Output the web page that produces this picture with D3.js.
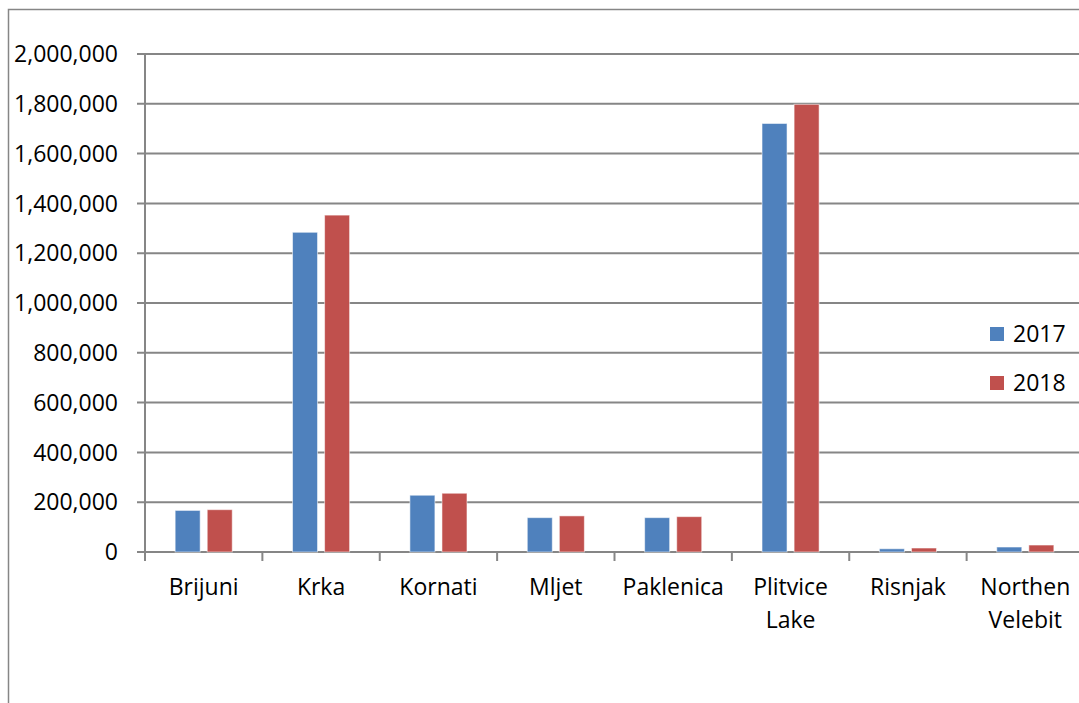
<!DOCTYPE html>
<html>
<head>
<meta charset="utf-8">
<script src="https://cdn.jsdelivr.net/npm/d3@7"></script>
<style>
  body { margin: 0; background: #fff; }
  text { font-family: "Open Sans", "Noto Sans", sans-serif; fill: #000; }
</style>
</head>
<body>
<div id="chart"></div>
<script>
const parks = ['Brijuni', 'Krka', 'Kornati', 'Mljet', 'Paklenica', 'Plitvice Lake', 'Risnjak', 'Northen Velebit'];
const years = ['2017', '2018'];
const visits2017 = [167000, 1284000, 228000, 138000, 138000, 1721000, 13000, 20000];
const visits2018 = [170000, 1353000, 236000, 145000, 142000, 1798000, 16000, 28000];
const yTicks = [0, 200000, 400000, 600000, 800000, 1000000, 1200000, 1400000, 1600000, 1800000, 2000000];
const colors = ['#4F81BD', '#C0504D'];

const w = 1079, h = 703;
const plotLeft = 145, plotRight = 1084, plotTop = 54, base = 552;
const grey = '#868686';

const svg = d3.select('#chart')
  .append('svg')
  .attr('width', w)
  .attr('height', h);

// outer chart frame, clipped by the window on right and bottom
svg.append('rect')
  .attr('x', 8.5).attr('y', 9.5)
  .attr('width', w + 20).attr('height', h + 20)
  .style('fill', 'none')
  .style('stroke', grey)
  .style('stroke-width', 1.5);

const x = d3.scaleBand().domain(parks).range([plotLeft, plotRight]).padding(0);
const x1 = d3.scaleBand().domain(years).range([0, x.bandwidth()])
  .paddingInner(0.22).paddingOuter(0.94);
const y = d3.scaleLinear().domain([0, 2000000]).range([base, plotTop]);

// gridlines
svg.append('g')
  .selectAll('line')
  .data(yTicks)
  .enter()
  .append('line')
  .attr('x1', plotLeft - 8)
  .attr('x2', w)
  .attr('y1', d => y(d))
  .attr('y2', d => y(d))
  .style('stroke', grey)
  .style('stroke-width', 2);

// y labels
svg.append('g')
  .selectAll('text')
  .data(yTicks)
  .enter()
  .append('text')
  .attr('x', 118)
  .attr('y', d => y(d))
  .attr('dy', '0.36em')
  .attr('text-anchor', 'end')
  .style('font-size', '23px')
  .text(d => d3.format(',')(d));

// y axis line
svg.append('line')
  .attr('x1', plotLeft).attr('x2', plotLeft)
  .attr('y1', y(2000000)).attr('y2', base)
  .style('stroke', grey)
  .style('stroke-width', 2);

// category ticks
svg.append('g')
  .selectAll('line')
  .data(parks.concat(['end']))
  .enter()
  .append('line')
  .attr('x1', (d, i) => plotLeft + i * x.bandwidth())
  .attr('x2', (d, i) => plotLeft + i * x.bandwidth())
  .attr('y1', base)
  .attr('y2', base + 9)
  .style('stroke', grey)
  .style('stroke-width', 2);

// bars
const series = [visits2017, visits2018];
series.forEach((vals, s) => {
  svg.append('g')
    .selectAll('rect')
    .data(vals)
    .enter()
    .append('rect')
    .attr('x', (d, i) => x(parks[i]) + x1(years[s]))
    .attr('y', d => y(d))
    .attr('width', x1.bandwidth())
    .attr('height', d => base - y(d))
    .style('fill', colors[s])
    .style('stroke', 'rgba(255,255,255,0.55)')
    .style('stroke-width', 1);
});

// category labels (wrap on space for long names)
const lbl = svg.append('g')
  .selectAll('text')
  .data(parks)
  .enter()
  .append('text')
  .attr('x', d => x(d) + x.bandwidth() / 2)
  .attr('y', 595)
  .attr('text-anchor', 'middle')
  .style('font-size', '23px');

lbl.each(function(d) {
  const words = d.split(' ');
  const t = d3.select(this);
  words.forEach((wd, i) => {
    t.append('tspan')
      .attr('x', t.attr('x'))
      .attr('dy', i === 0 ? 0 : 33)
      .text(wd);
  });
});

// legend
const leg = svg.append('g')
  .selectAll('g')
  .data(years)
  .enter()
  .append('g')
  .attr('transform', (d, i) => `translate(990,${334 + i * 49})`);

leg.append('rect')
  .attr('x', 0).attr('y', -7)
  .attr('width', 14).attr('height', 14)
  .style('fill', (d, i) => colors[i]);

leg.append('text')
  .attr('x', 23)
  .attr('y', 0)
  .attr('dy', '0.36em')
  .style('font-size', '23px')
  .text(d => d);
</script>
</body>
</html>
